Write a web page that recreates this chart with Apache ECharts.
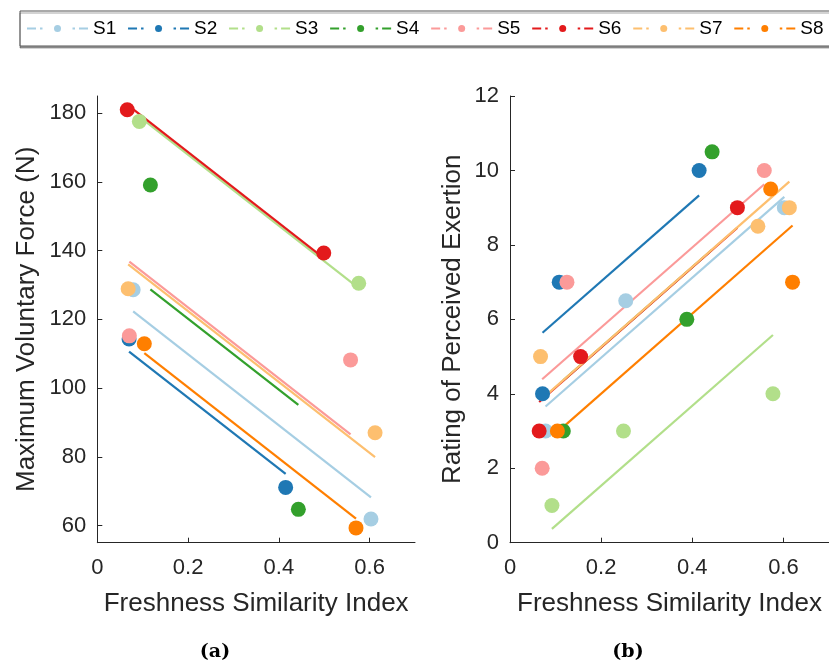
<!DOCTYPE html>
<html><head><meta charset="utf-8">
<script src="https://cdn.jsdelivr.net/npm/echarts@6/dist/echarts.min.js"></script>
<style>html,body{margin:0;padding:0;background:#fff}#c{width:829px;height:664px}</style>
</head><body><div id="c"></div>
<script>
const subjects = ['S1','S2','S3','S4','S5','S6','S7','S8'];
const xTicks = [0, 0.2, 0.4, 0.6];
const forceTicks = [60, 80, 100, 120, 140, 160, 180];
const rpeTicks = [0, 2, 4, 6, 8, 10, 12];

// (a) Maximum voluntary force: measured points and fitted lines
const S1_force = [[0.079,128.6],[0.603,61.9]];
const S2_force = [[0.070,114.3],[0.415,71.1]];
const S3_force = [[0.0926,177.6],[0.576,130.5]];
const S4_force = [[0.117,159.1],[0.443,64.7]];
const S5_force = [[0.0706,115.2],[0.558,108.2]];
const S6_force = [[0.066,181.0],[0.499,139.3]];
const S7_force = [[0.068,128.9],[0.612,87.0]];
const S8_force = [[0.1036,112.9],[0.570,59.3]];

const S1_forceFit = [[0.079,122.3],[0.603,68.2]];
const S2_forceFit = [[0.070,110.6],[0.415,75.0]];
const S3_forceFit = [[0.0926,179.0],[0.576,129.1]];
const S4_forceFit = [[0.117,128.7],[0.443,95.1]];
const S5_forceFit = [[0.0706,136.8],[0.558,86.5]];
const S6_forceFit = [[0.066,182.5],[0.499,137.8]];
const S7_forceFit = [[0.068,136.0],[0.612,79.9]];
const S8_forceFit = [[0.1036,110.2],[0.570,62.0]];

// (b) Rating of perceived exertion: measured points and fitted lines
const S1_rpe = [[0.078,3],[0.254,6.5],[0.602,9]];
const S2_rpe = [[0.0714,4],[0.108,7],[0.415,10]];
const S3_rpe = [[0.092,1],[0.249,3],[0.577,4]];
const S4_rpe = [[0.117,3],[0.388,6],[0.4435,10.5]];
const S5_rpe = [[0.0706,2],[0.125,7],[0.558,10]];
const S6_rpe = [[0.064,3],[0.155,5],[0.499,9]];
const S7_rpe = [[0.067,5],[0.544,8.5],[0.613,9]];
const S8_rpe = [[0.104,3],[0.572,9.5],[0.620,7]];

const S1_rpeFit = [[0.078,3.66],[0.602,9.29]];
const S2_rpeFit = [[0.0714,5.64],[0.415,9.33]];
const S3_rpeFit = [[0.092,0.37],[0.577,5.58]];
const S4_rpeFit = [[0.117,4.36],[0.4435,7.87]];
const S5_rpeFit = [[0.0706,4.39],[0.558,9.63]];
const S6_rpeFit = [[0.064,3.78],[0.499,8.46]];
const S7_rpeFit = [[0.067,3.83],[0.613,9.70]];
const S8_rpeFit = [[0.104,2.97],[0.620,8.52]];

const forcePts = [S1_force,S2_force,S3_force,S4_force,S5_force,S6_force,S7_force,S8_force];
const forceFits = [S1_forceFit,S2_forceFit,S3_forceFit,S4_forceFit,S5_forceFit,S6_forceFit,S7_forceFit,S8_forceFit];
const rpePts = [S1_rpe,S2_rpe,S3_rpe,S4_rpe,S5_rpe,S6_rpe,S7_rpe,S8_rpe];
const rpeFits = [S1_rpeFit,S2_rpeFit,S3_rpeFit,S4_rpeFit,S5_rpeFit,S6_rpeFit,S7_rpeFit,S8_rpeFit];

const colors = ['#a6cee3','#1f78b4','#b2df8a','#33a02c','#fb9a99','#e31a1c','#fdbf6f','#ff7f00'];
const axisColor = '#262626';
const FONT = '"Liberation Sans", Arial, sans-serif';

const chart = echarts.init(document.getElementById('c'), null, {renderer: 'canvas'});

function xAxisCfg(gi) {
  return {
    type: 'value', gridIndex: gi, min: 0, max: 0.7,
    name: 'Freshness Similarity Index', nameLocation: 'middle', nameGap: 48,
    nameTextStyle: {fontSize: 26, color: axisColor, fontFamily: FONT},
    axisLine: {show: true, lineStyle: {color: axisColor, width: 1}},
    axisTick: {show: true, inside: true, length: 5, customValues: xTicks, lineStyle: {color: axisColor}},
    axisLabel: {customValues: xTicks, fontSize: 22, color: axisColor, margin: 14, fontFamily: FONT},
    splitLine: {show: false}
  };
}
function yAxisCfg(gi, min, max, ticks, name, gap) {
  return {
    type: 'value', gridIndex: gi, min: min, max: max,
    name: name, nameLocation: 'middle', nameGap: gap,
    nameTextStyle: {fontSize: 26, color: axisColor, fontFamily: FONT},
    axisLine: {show: true, lineStyle: {color: axisColor, width: 1}},
    axisTick: {show: true, inside: true, length: 5, customValues: ticks, lineStyle: {color: axisColor}},
    axisLabel: {customValues: ticks, fontSize: 22, color: axisColor, margin: 11, fontFamily: FONT},
    splitLine: {show: false}
  };
}

const series = [];
// legend-only series
subjects.forEach((s, i) => {
  series.push({
    type: 'line', name: s, data: [], xAxisIndex: 0, yAxisIndex: 0,
    symbol: 'circle', itemStyle: {color: colors[i], borderWidth: 0},
    lineStyle: {color: colors[i], width: 2}
  });
});
function addPanel(pts, fits, axisIdx) {
  subjects.forEach((s, i) => {
    series.push({
      type: 'line', name: s + ' fit', data: fits[i], xAxisIndex: axisIdx, yAxisIndex: axisIdx,
      symbol: 'none', silent: true, lineStyle: {color: colors[i], width: 2.2}, z: 2
    });
    series.push({
      type: 'scatter', name: s + ' data', data: pts[i], xAxisIndex: axisIdx, yAxisIndex: axisIdx,
      symbol: 'circle', symbolSize: 15, silent: true,
      itemStyle: {color: colors[i], opacity: 1, borderWidth: 0}, z: 2
    });
  });
}
addPanel(forcePts, forceFits, 0);
addPanel(rpePts, rpeFits, 1);

chart.setOption({
  animation: false,
  textStyle: {fontFamily: FONT},
  grid: [
    {left: 97.3, top: 96, width: 317.7, height: 446.7},
    {left: 510, top: 96, width: 330.4, height: 446.7}
  ],
  xAxis: [xAxisCfg(0), xAxisCfg(1)],
  yAxis: [
    yAxisCfg(0, 55, 185, forceTicks, 'Maximum Voluntary Force (N)', 57),
    yAxisCfg(1, 0, 12, rpeTicks, 'Rating of Perceived Exertion', 44.5)
  ],
  legend: {
    data: subjects, left: 20, top: 11, width: 900,
    orient: 'horizontal', selectedMode: false,
    itemWidth: 61, itemHeight: 8.75, itemGap: 10.8,
    padding: [8, 20, 8, 6],
    borderColor: '#555', borderWidth: 1, backgroundColor: '#fff',
    shadowColor: 'rgba(0,0,0,0.35)', shadowOffsetY: 2, shadowBlur: 0,
    textStyle: {fontSize: 19, color: '#000', fontFamily: FONT},
    lineStyle: {width: 2, type: [9, 4, 2.5, 30, 2.5, 4, 9, 10]},
    itemStyle: {borderWidth: 0}
  },
  graphic: [
    {type: 'text', x: 215, y: 652, style: {text: '(a)', font: 'bold 19px "DejaVu Serif", serif', fill: '#000', textAlign: 'center', textVerticalAlign: 'middle'}},
    {type: 'text', x: 628, y: 652, style: {text: '(b)', font: 'bold 19px "DejaVu Serif", serif', fill: '#000', textAlign: 'center', textVerticalAlign: 'middle'}}
  ],
  series: series
});
</script>
</body></html>
